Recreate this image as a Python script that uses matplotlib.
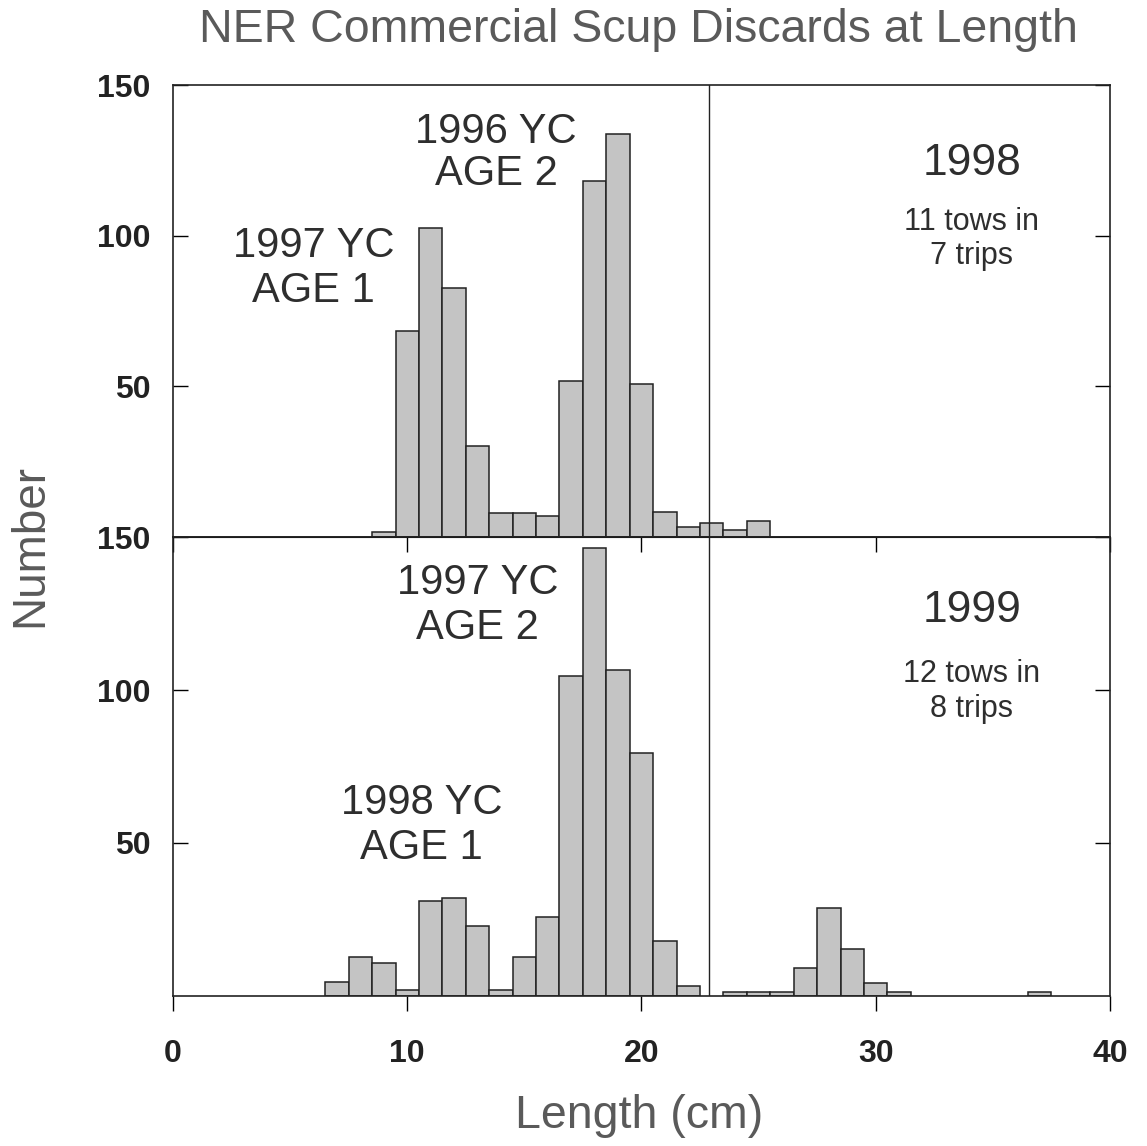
from matplotlib import pyplot as plt
import numpy as np

plt.rcParams['font.family'] = ['Liberation Sans', 'DejaVu Sans']

# 1998 discards (top panel)
len_1998 = [9, 10, 11, 12, 13, 14, 15, 16, 17, 18, 19, 20, 21, 22, 23, 24, 25]
num_1998 = [1.5, 68.3, 102.4, 82.5, 30.1, 7.9, 7.9, 7.1, 51.7, 118.3, 133.9, 50.8, 8.4, 3.4, 4.5, 2.4, 5.4]

# 1999 discards (bottom panel)
len_1999 = [7, 8, 9, 10, 11, 12, 13, 14, 15, 16, 17, 18, 19, 20, 21, 22,
            24, 25, 26, 27, 28, 29, 30, 31, 37]
num_1999 = [4.7, 12.7, 10.7, 1.8, 31.0, 31.9, 23.0, 2.0, 12.7, 25.9, 104.5, 146.4, 106.5, 79.4, 18.1, 3.3,
            1.3, 1.3, 1.3, 9.1, 28.6, 15.3, 4.4, 1.4, 1.4]

y_ticks = [50, 100, 150]
x_ticks = [0, 10, 20, 30, 40]
split_len = 22.9

bar_color = '#c4c4c4'
text_color = '#2e2e2e'
tick_color = '#222222'
label_color = '#5a5a5a'

fig = plt.figure(figsize=(11.47, 11.46), dpi=100)
left, width = 0.1508, 0.8169
ax1 = fig.add_axes([left, 0.5314, width, 0.3944])
ax2 = fig.add_axes([left, 0.1309, width, 0.4005])

for ax, lens, nums in [(ax1, len_1998, num_1998), (ax2, len_1999, num_1999)]:
    ax.bar(lens, nums, width=1.0, color=bar_color, edgecolor='#222222', linewidth=1.1)
    ax.axvline(split_len, color='#222222', linewidth=1.0)
    ax.set_xlim(0, 40)
    ax.set_ylim(0, 150)
    ax.set_yticks(y_ticks)
    ax.tick_params(axis='y', direction='in', length=11, width=1, left=True, right=True, pad=16,
                   labelsize=23, labelcolor=tick_color)
    for lab in ax.get_yticklabels():
        lab.set_fontweight('bold')
    for s in ax.spines.values():
        s.set_linewidth(1.2)
        s.set_color('#222222')

ax1.set_xticks([])

ax2.set_xticks(x_ticks)
ax2.set_xticklabels([str(t) for t in x_ticks], fontweight='bold')
ax2.tick_params(axis='x', direction='out', length=11, width=1, pad=20, labelsize=23, labelcolor=tick_color)
# inward ticks along the top edge of the lower panel
sec = ax2.secondary_xaxis('top')
sec.set_xticks(x_ticks)
sec.tick_params(direction='in', length=11, width=1, labeltop=False)

# annotations, top panel
ax1.text(13.8, 134.5, '1996 YC', ha='center', va='center', fontsize=30, color=text_color)
ax1.text(13.8, 120.6, 'AGE 2', ha='center', va='center', fontsize=30, color=text_color)
ax1.text(6.0, 96.5, '1997 YC', ha='center', va='center', fontsize=30, color=text_color)
ax1.text(6.0, 81.6, 'AGE 1', ha='center', va='center', fontsize=30, color=text_color)
ax1.text(34.1, 124, '1998', ha='center', va='center', fontsize=32, color=text_color)
ax1.text(34.1, 104.6, '11 tows in', ha='center', va='center', fontsize=22, color=text_color)
ax1.text(34.1, 93.4, '7 trips', ha='center', va='center', fontsize=22, color=text_color)

# annotations, bottom panel
ax2.text(13.0, 135, '1997 YC', ha='center', va='center', fontsize=30, color=text_color)
ax2.text(13.0, 120.3, 'AGE 2', ha='center', va='center', fontsize=30, color=text_color)
ax2.text(10.6, 63.1, '1998 YC', ha='center', va='center', fontsize=30, color=text_color)
ax2.text(10.6, 48.4, 'AGE 1', ha='center', va='center', fontsize=30, color=text_color)
ax2.text(34.1, 126, '1999', ha='center', va='center', fontsize=32, color=text_color)
ax2.text(34.1, 105.2, '12 tows in', ha='center', va='center', fontsize=22, color=text_color)
ax2.text(34.1, 93.8, '8 trips', ha='center', va='center', fontsize=22, color=text_color)

fig.text(0.557, 0.974, 'NER Commercial Scup Discards at Length', ha='center', va='center',
         fontsize=33.5, color=label_color)
fig.text(0.026, 0.524, 'Number', rotation=90, ha='center', va='center', fontsize=33, color=label_color)
fig.text(0.557, 0.026, 'Length (cm)', ha='center', va='center', fontsize=33.5, color=label_color)

fig.savefig('out.png', dpi=100)
